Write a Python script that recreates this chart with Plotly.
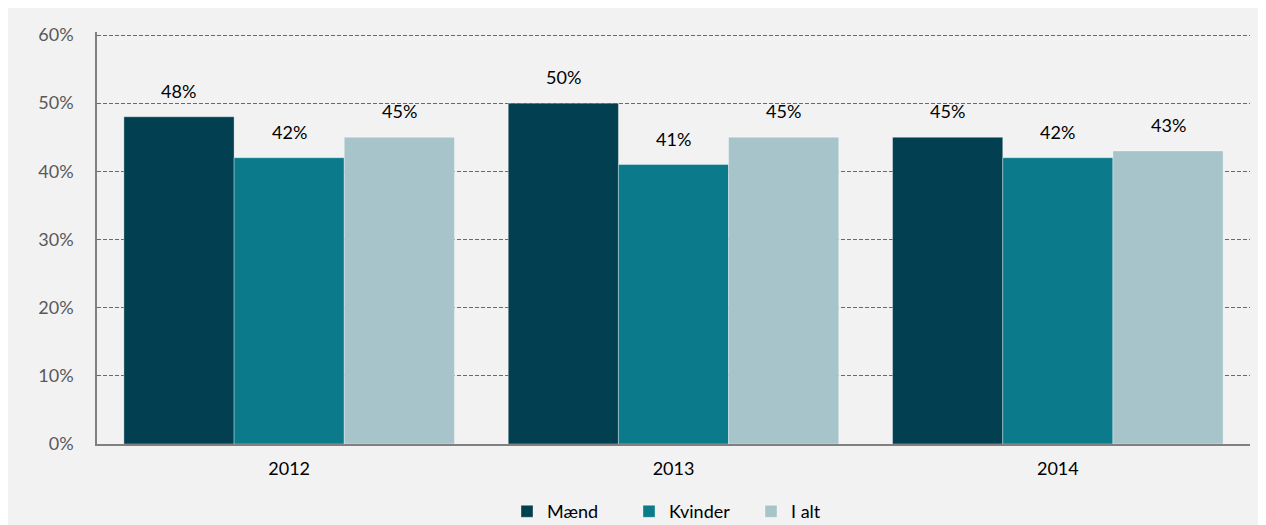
import plotly.graph_objects as go

years = ["2012", "2013", "2014"]
series_names = ["Mænd", "Kvinder", "I alt"]
maend = [48, 50, 45]
kvinder = [42, 41, 42]
i_alt = [45, 45, 43]
y_ticks = [0, 10, 20, 30, 40, 50, 60]
y_tick_labels = ["0%", "10%", "20%", "30%", "40%", "50%", "60%"]

colors = ["#023f50", "#0b7a8a", "#a6c4c9"]
values = [maend, kvinder, i_alt]

FONT = "Lato, 'Open Sans', sans-serif"

W, H = 1258, 517
ML, MR, MT, MB = 89, 16, 24, 81
BARGAP = 0.14

fig = go.Figure()
for name, vals, col in zip(series_names, values, colors):
    fig.add_trace(go.Bar(
        x=years, y=vals, name=name,
        marker=dict(color=col, line=dict(color="rgba(255,255,255,0.35)", width=1)),
    ))

# data labels placed above each bar (x given as category index)
plot_w = W - ML - MR
bar_px = plot_w / len(years) * (1 - BARGAP) / len(series_names)
for si, vals in enumerate(values):
    shift = (si - (len(series_names) - 1) / 2) * bar_px
    for ci, v in enumerate(vals):
        fig.add_annotation(
            x=ci, y=v, text=f"{v}%", showarrow=False,
            xshift=shift, yshift=13, yanchor="bottom",
            font=dict(family=FONT, size=18, color="#000000"),
        )

fig.update_layout(
    width=W, height=H,
    margin=dict(l=ML, r=MR, t=MT, b=MB, autoexpand=False),
    paper_bgcolor="#f2f2f2",
    plot_bgcolor="#f2f2f2",
    barmode="group",
    bargap=BARGAP,
    bargroupgap=0,
    font=dict(family=FONT, size=18, color="#000000"),
    showlegend=True,
    legend=dict(
        orientation="h", x=(507 - 97) / 1153, xanchor="left", y=-0.164, yanchor="middle",
        font=dict(family=FONT, size=18, color="#000000"),
        entrywidth=77, entrywidthmode="pixels",
        bgcolor="rgba(0,0,0,0)",
        itemclick=False, itemdoubleclick=False,
    ),
    xaxis=dict(
        type="category",
        range=[-0.5, len(years) - 0.5],
        showline=True, linecolor="#808080", linewidth=2,
        showgrid=False, ticks="",
        tickfont=dict(family=FONT, size=18, color="#000000"),
        ticklabelstandoff=7,
    ),
    yaxis=dict(
        range=[0, 60.44],
        tickvals=y_ticks, ticktext=y_tick_labels,
        showline=True, linecolor="#808080", linewidth=1.5,
        showgrid=True, gridcolor="#6a6a6a", griddash="4px,2px", gridwidth=1,
        ticks="",
        tickfont=dict(family=FONT, size=18, color="#595959"),
        zeroline=False,
        ticklabelstandoff=18,
    ),
)

fig.write_html("out.html")
